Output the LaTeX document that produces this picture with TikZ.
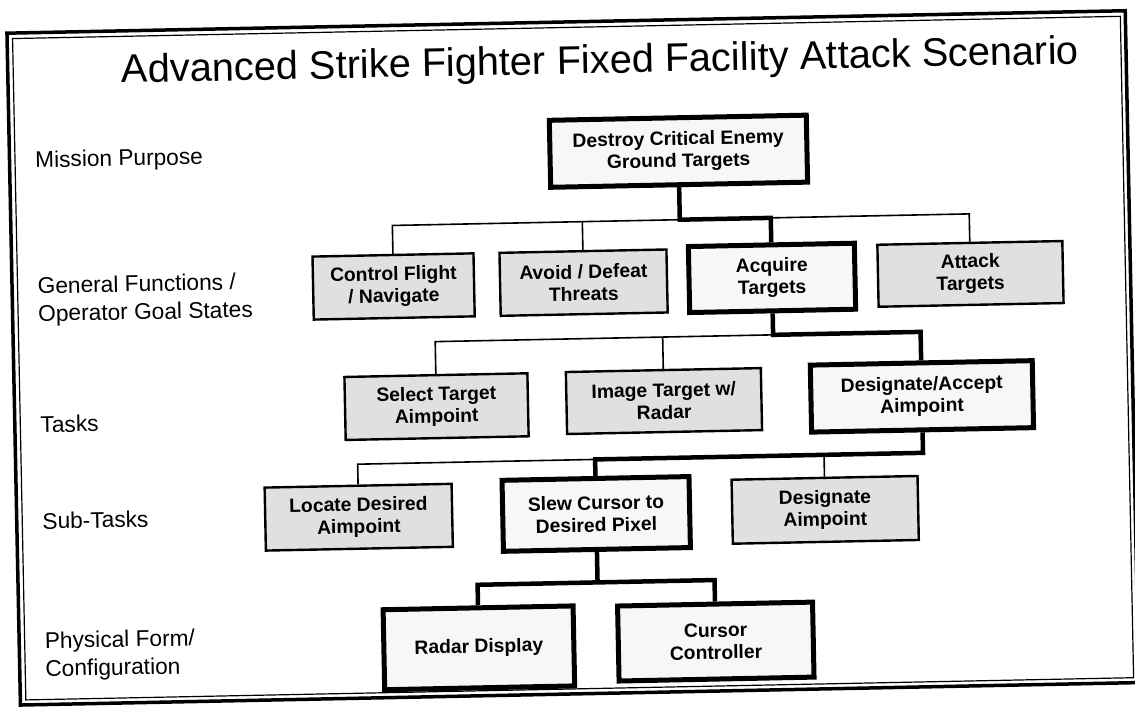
\documentclass[tikz,border=0pt]{standalone}
\usepackage{fontspec}
\setmainfont{Liberation Sans}
\begin{document}
\begin{tikzpicture}[x=1pt,y=-1pt,
  box/.style={draw, align=center, inner sep=0pt, text=black,
    font=\bfseries\fontsize{19.3}{22}\selectfont},
  keybox/.style={box, line width=5pt, fill=gray!6},
  shadebox/.style={box, line width=2.4pt, fill=gray!24},
  thinlink/.style={line width=1.6pt, line join=miter},
  keylink/.style={line width=4.5pt, line join=miter},
  rowlabel/.style={anchor=base west, align=left, inner sep=0pt,
    font=\fontsize{22.7}{28}\selectfont}
]
\useasboundingbox (0,0) rectangle (1135,709);
\fill[white] (0,0) rectangle (1135,709);
\clip (0,0) rectangle (1135,709);

\begin{scope}[rotate around={1.15:(567,354)}, transform shape]
% slide frame
\draw[line width=3.5pt] (13.5,22) rectangle (1132,694);
\draw[line width=1.2pt] (19,27.5) rectangle (1127,689);

% heading
\node[anchor=base, inner sep=0pt, font=\fontsize{39.8}{44}\selectfont] (title)
  at (606,74) {Advanced Strike Fighter Fixed Facility Attack Scenario};

% level names (base = baseline of the last line)
\node[rowlabel] (lvl0) at (39,157) {Mission Purpose};
\node[rowlabel] (lvl1) at (39,311) {General Functions /\\Operator Goal States};
\node[rowlabel] (lvl2) at (39,422) {Tasks};
\node[rowlabel] (lvl3) at (39,518.5) {Sub-Tasks};
\node[rowlabel] (lvl4) at (39,666) {Physical Form/\\Configuration};

% mission purpose
\node[keybox, minimum width=257, minimum height=67] (root) at (682.5,153.5)
  {Destroy Critical Enemy\\Ground Targets};

% general functions
\node[shadebox, minimum width=161, minimum height=63] (ctrl) at (395,283)
  {Control Flight\\/ Navigate};
\node[shadebox, minimum width=167, minimum height=63] (avoid) at (585,283)
  {Avoid / Defeat\\Threats};
\node[keybox, minimum width=166, minimum height=66] (acq) at (773.5,282)
  {Acquire\\Targets};
\node[shadebox, minimum width=185, minimum height=62] (attack) at (972,282)
  {Attack\\Targets};

% tasks
\node[shadebox, minimum width=183, minimum height=63] (select) at (435.5,404)
  {Select Target\\Aimpoint};
\node[shadebox, minimum width=195, minimum height=62] (image) at (663,403)
  {Image Target w/\\Radar};
\node[keybox, minimum width=222, minimum height=67] (desacc) at (921,403.5)
  {Designate/Accept\\Aimpoint};

% sub-tasks
\node[shadebox, minimum width=187, minimum height=63] (locate) at (355.5,513)
  {Locate Desired\\Aimpoint};
\node[keybox, minimum width=187, minimum height=71] (slew) at (593,514.5)
  {Slew Cursor to\\Desired Pixel};
\node[shadebox, minimum width=186, minimum height=64] (desig) at (822,515)
  {Designate\\Aimpoint};

% physical form
\node[keybox, minimum width=190, minimum height=80] (radar) at (473,646)
  {Radar Display};
\node[keybox, minimum width=195, minimum height=75] (cursor) at (710,644.5)
  {Cursor\\Controller};

% branch points
\coordinate (j1) at (682.5,222);
\coordinate (k1a) at (395,222);
\coordinate (k1b) at (585,222);
\coordinate (k1c) at (773.5,222);
\coordinate (k1d) at (972,222);

\coordinate (j2) at (773.5,339);
\coordinate (k2a) at (435.5,339);
\coordinate (k2b) at (663,339);
\coordinate (k2c) at (921,339);

\coordinate (j3) at (921,460);
\coordinate (k3a) at (355.5,460);
\coordinate (k3b) at (593,460);
\coordinate (k3c) at (822,460);

\coordinate (j4) at (593,583);
\coordinate (k4a) at (473,583);
\coordinate (k4b) at (710,583);

% tree links
\draw[thinlink] (ctrl.north) -- (k1a) -- (j1);
\draw[thinlink] (avoid.north) -- (k1b);
\draw[thinlink] (k1c) -- (k1d) -- (attack.north);
\draw[keylink] (root.south) -- (j1) -- (k1c) -- (acq.north);

\draw[thinlink] (select.north) -- (k2a) -- (j2);
\draw[thinlink] (image.north) -- (k2b);
\draw[keylink] (acq.south) -- (j2) -- (k2c) -- (desacc.north);

\draw[thinlink] (locate.north) -- (k3a) -- (k3b);
\draw[thinlink] (desig.north) -- (k3c);
\draw[keylink] (desacc.south) -- (j3) -- (k3b) -- (slew.north);

\draw[keylink] (slew.south) -- (j4);
\draw[keylink] (radar.north) -- (k4a) -- (k4b) -- (cursor.north);
\end{scope}
\end{tikzpicture}
\end{document}
